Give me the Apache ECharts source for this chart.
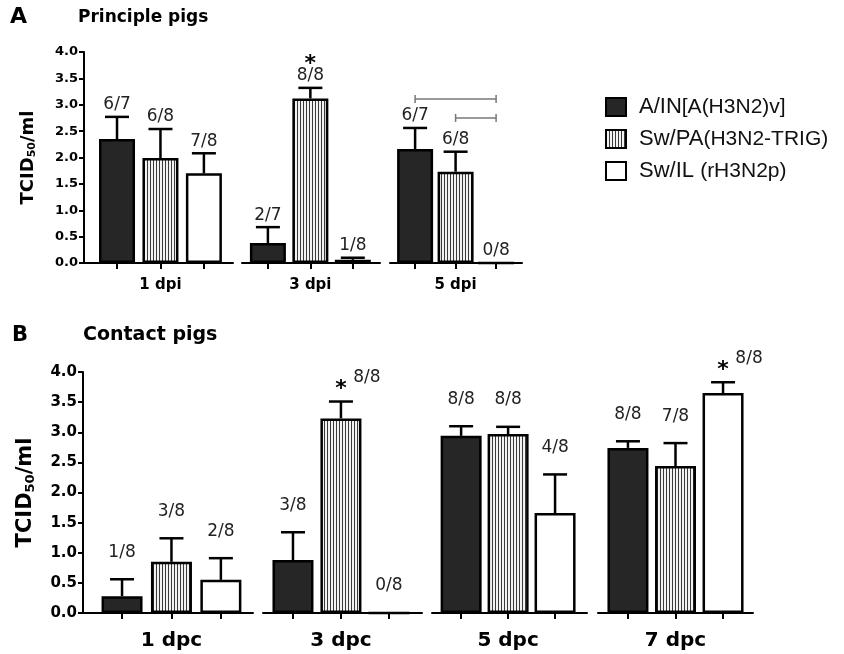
<!DOCTYPE html>
<html>
<head>
<meta charset="utf-8">
<script src="https://cdn.jsdelivr.net/npm/echarts@6/dist/echarts.min.js"></script>
<style>
  html, body { margin: 0; background: #fff; }
  #chart { width: 844px; height: 654px; }
</style>
</head>
<body>
<div id="chart"></div>
<script>
var viruses = ['A/IN[A(H3N2)v]', 'Sw/PA(H3N2-TRIG)', 'Sw/IL (rH3N2p)'];
var legendMain = ['A/IN', 'Sw/PA', 'Sw/IL '];
var legendSub = ['[A(H3N2)v]', '(H3N2-TRIG)', '(rH3N2p)'];

// A - principle pigs
var groupsA = ['1 dpi', '3 dpi', '5 dpi'];
var meanA_IN = [2.35, 0.38, 2.16];
var meanA_PA = [1.99, 3.12, 1.73];
var meanA_IL = [1.70, 0.06, 0];
var errA_IN = [0.42, 0.30, 0.40];
var errA_PA = [0.55, 0.20, 0.38];
var errA_IL = [0.38, 0.04, 0];
var posA_IN = ['6/7', '2/7', '6/7'];
var posA_PA = ['6/8', '8/8', '6/8'];
var posA_IL = ['7/8', '1/8', '0/8'];
var starA_IN = [0, 0, 0];
var starA_PA = [0, 1, 0];
var starA_IL = [0, 0, 0];
// significance brackets in 5 dpi (bar index from, to, height)
var bracketFrom = [0, 1];
var bracketTo = [2, 2];
var bracketY = [3.11, 2.75];

// B - contact pigs
var groupsB = ['1 dpc', '3 dpc', '5 dpc', '7 dpc'];
var meanB_IN = [0.28, 0.88, 2.94, 2.74];
var meanB_PA = [0.85, 3.23, 2.97, 2.44];
var meanB_IL = [0.55, 0, 1.66, 3.65];
var errB_IN = [0.28, 0.46, 0.16, 0.11];
var errB_PA = [0.39, 0.28, 0.12, 0.38];
var errB_IL = [0.36, 0, 0.64, 0.18];
var posB_IN = ['1/8', '3/8', '8/8', '8/8'];
var posB_PA = ['3/8', '8/8', '8/8', '7/8'];
var posB_IL = ['2/8', '0/8', '4/8', '8/8'];
var starB_IN = [0, 0, 0, 0];
var starB_PA = [0, 1, 0, 0];
var starB_IL = [0, 0, 0, 1];

// vertical stripes for the Sw/PA bars
var stripe = document.createElement('canvas');
stripe.width = 3; stripe.height = 4;
var sctx = stripe.getContext('2d');
sctx.fillStyle = '#f2f2f2'; sctx.fillRect(0, 0, 3, 4);
sctx.fillStyle = '#3a3a3a'; sctx.fillRect(0, 0, 1, 4);
var fills = ['#262626', { image: stripe, repeat: 'repeat' }, '#ffffff'];

var FONT = 'DejaVu Sans';

var panels = [
  {
    groups: groupsA, means: [meanA_IN, meanA_PA, meanA_IL], errs: [errA_IN, errA_PA, errA_IL],
    labels: [posA_IN, posA_PA, posA_IL], stars: [starA_IN, starA_PA, starA_IL],
    // [left, right, xmin, xmax] of every axis segment
    segs: [[84, 233, -0.76, 2.67], [242, 380, -0.61, 2.64], [390, 522, -0.62, 2.64]],
    top: 52, height: 211, barWidth: 36, yFont: 13, nameFont: 18, subFont: 11, nameGap: 46,
    xFont: 15, xMargin: 15, big: false
  },
  {
    groups: groupsB, means: [meanB_IN, meanB_PA, meanB_IL], errs: [errB_IN, errB_PA, errB_IL],
    labels: [posB_IN, posB_PA, posB_IL], stars: [starB_IN, starB_PA, starB_IL],
    segs: [[83, 253, -0.79, 2.65], [263, 422, -0.625, 2.69], [432, 587, -0.62, 2.68], [598, 753, -0.63, 2.63]],
    top: 372, height: 241, barWidth: 41, yFont: 15, nameFont: 21, subFont: 13, nameGap: 46,
    xFont: 20, xMargin: 18, big: true
  }
];

var grid = [], xAxis = [], yAxis = [], series = [];
var g = 0;
panels.forEach(function (p) {
  p.segs.forEach(function (s, gi) {
    grid.push({ left: s[0], width: s[1] - s[0], top: p.top, height: p.height, outerBoundsMode: 'none' });
    xAxis.push({
      type: 'value', gridIndex: g, min: s[2], max: s[3],
      splitLine: { show: false },
      axisLine: { show: true, onZero: false, lineStyle: { color: '#000', width: 2 } },
      axisTick: { show: true, customValues: [0, 1, 2], length: 6, lineStyle: { color: '#000', width: 2 } },
      axisLabel: {
        customValues: [1], margin: p.xMargin,
        formatter: (function (name) { return function () { return name; }; })(p.groups[gi]),
        color: '#000', fontFamily: FONT, fontWeight: 'bold', fontSize: p.xFont
      }
    });
    yAxis.push({
      type: 'value', gridIndex: g, min: 0, max: 4, interval: 0.5, show: gi === 0,
      splitLine: { show: false },
      axisLine: { show: true, onZero: false, lineStyle: { color: '#000', width: 2 } },
      axisTick: { show: true, length: 5, lineStyle: { color: '#000', width: 2 } },
      axisLabel: {
        margin: 6, color: '#000', fontFamily: FONT, fontWeight: 'bold', fontSize: p.yFont,
        formatter: function (v) { return v.toFixed(1); }
      },
      name: 'TCID{s|50}/ml', nameLocation: 'middle', nameRotate: 90, nameGap: p.nameGap,
      nameTextStyle: {
        color: '#000', fontFamily: FONT, fontWeight: 'bold', fontSize: p.nameFont,
        rich: { s: { fontFamily: FONT, fontWeight: 'bold', fontSize: p.subFont, padding: [p.subFont * 0.7, 0, 0, 0] } }
      }
    });
    // bars
    viruses.forEach(function (vName, v) {
      series.push({
        type: 'bar', name: vName, xAxisIndex: g, yAxisIndex: g, barWidth: p.barWidth, barGap: '-100%',
        itemStyle: { color: fills[v], borderColor: '#000', borderWidth: 2.5 },
        data: [[v, p.means[v][gi]]], silent: true
      });
    });
    // error bars and positive counts
    var rows = viruses.map(function (vName, v) {
      return [v, p.means[v][gi], p.means[v][gi] + p.errs[v][gi]];
    });
    series.push({
      type: 'custom', xAxisIndex: g, yAxisIndex: g, silent: true, z: 5,
      encode: { x: 0, y: [1, 2] },
      data: rows,
      renderItem: (function (p, gi) {
        return function (params, api) {
          var v = params.dataIndex;
          var x = api.value(0), m = api.value(1), up = api.value(2);
          var p0 = api.coord([x, m]), p1 = api.coord([x, up]);
          var kids = [];
          var ls = { stroke: '#000', lineWidth: 2.5 };
          if (up > m) {
            kids.push({ type: 'line', shape: { x1: p0[0], y1: p0[1], x2: p1[0], y2: p1[1] }, style: ls });
            kids.push({ type: 'line', shape: { x1: p1[0] - 12, y1: p1[1], x2: p1[0] + 12, y2: p1[1] }, style: ls });
          }
          var star = p.stars[v][gi];
          var lx = p1[0], ly, sx = p1[0], sy;
          if (p.big) {
            ly = p1[1] - 27;
            if (star) { lx = p1[0] + 26; ly = p1[1] - 24; sy = p1[1] - 12; }
          } else {
            ly = p1[1] - 12;
            sy = ly - 12;
          }
          kids.push({
            type: 'text', x: lx, y: ly,
            style: { text: p.labels[v][gi], fill: '#222', fontFamily: FONT, fontSize: 17, align: 'center', verticalAlign: 'middle' }
          });
          if (star) {
            kids.push({
              type: 'text', x: sx, y: sy,
              style: { text: '*', fill: '#000', fontFamily: FONT, fontWeight: 'bold', fontSize: 22, align: 'center', verticalAlign: 'middle' }
            });
          }
          return { type: 'group', children: kids };
        };
      })(p, gi)
    });
    g++;
  });
});

// brackets over 5 dpi
series.push({
  type: 'custom', xAxisIndex: 2, yAxisIndex: 2, silent: true, z: 5,
  encode: { x: [0, 1], y: 2 },
  data: bracketFrom.map(function (f, i) { return [f, bracketTo[i], bracketY[i]]; }),
  renderItem: function (params, api) {
    var a = api.coord([api.value(0), api.value(2)]);
    var b = api.coord([api.value(1), api.value(2)]);
    var st = { stroke: '#777', lineWidth: 1.5 };
    return {
      type: 'group', children: [
        { type: 'line', shape: { x1: a[0], y1: a[1], x2: b[0], y2: b[1] }, style: st },
        { type: 'line', shape: { x1: a[0], y1: a[1] - 4, x2: a[0], y2: a[1] + 4 }, style: st },
        { type: 'line', shape: { x1: b[0], y1: b[1] - 4, x2: b[0], y2: b[1] + 4 }, style: st }
      ]
    };
  }
});

var option = {
  animation: false,
  backgroundColor: '#fff',
  title: [
    { text: 'A', left: 10, top: 6, padding: 0, textStyle: { fontFamily: FONT, fontWeight: 'bold', fontSize: 22, color: '#000' } },
    { text: 'Principle pigs', left: 78, top: 9, padding: 0, textStyle: { fontFamily: FONT, fontWeight: 'bold', fontSize: 17, color: '#000' } },
    { text: 'B', left: 12, top: 325, padding: 0, textStyle: { fontFamily: FONT, fontWeight: 'bold', fontSize: 21, color: '#000' } },
    { text: 'Contact pigs', left: 83, top: 326, padding: 0, textStyle: { fontFamily: FONT, fontWeight: 'bold', fontSize: 19, color: '#000' } }
  ],
  legend: {
    orient: 'vertical', left: 605, top: 96, padding: 0, itemWidth: 20, itemHeight: 18, itemGap: 10, icon: 'rect',
    data: viruses, selectedMode: false,
    formatter: function (name) {
      var i = viruses.indexOf(name);
      return '{m|' + legendMain[i] + '}{s|' + legendSub[i] + '}';
    },
    textStyle: {
      padding: [0, 0, 0, 8],
      rich: {
        m: { fontFamily: 'Liberation Sans', fontSize: 22, color: '#111' },
        s: { fontFamily: 'Liberation Sans', fontSize: 21, color: '#111' }
      }
    }
  },
  grid: grid,
  xAxis: xAxis,
  yAxis: yAxis,
  series: series
};

var chart = echarts.init(document.getElementById('chart'));
chart.setOption(option);
</script>
</body>
</html>
